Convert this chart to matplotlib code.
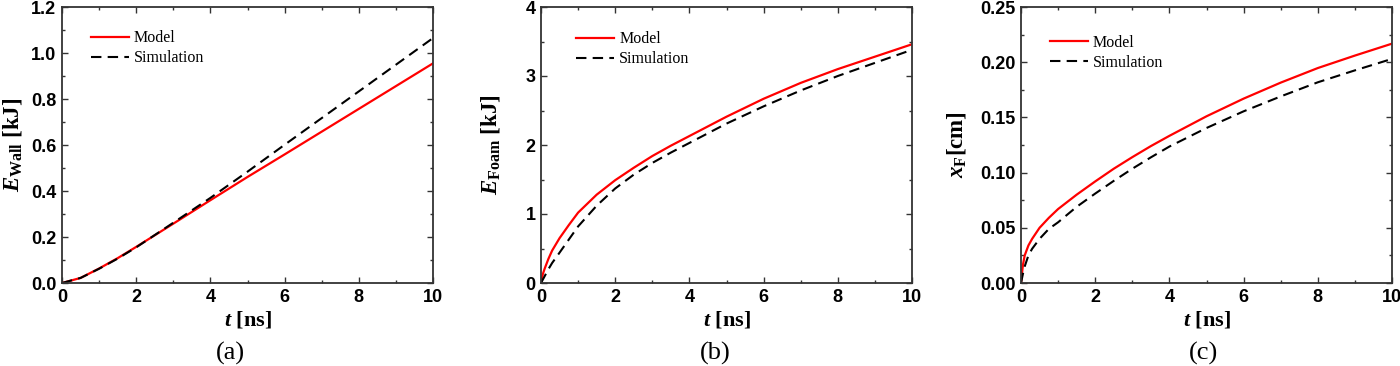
import matplotlib
matplotlib.use("Agg")
import matplotlib.pyplot as plt
from matplotlib.ticker import AutoMinorLocator

# panel (a): wall energy
t_a = [0, 0.5, 1, 1.5, 2, 3, 4, 5, 6, 7, 8, 9, 10]
wall_model = [0, 0.022, 0.063, 0.108, 0.157, 0.258, 0.36, 0.461, 0.559, 0.658, 0.757, 0.856, 0.955]
wall_sim = [0, 0.022, 0.062, 0.106, 0.155, 0.262, 0.37, 0.484, 0.601, 0.717, 0.833, 0.949, 1.065]

# panels (b), (c): foam energy and front position
t_bc = [0, 0.05, 0.1, 0.2, 0.3, 0.5, 0.75, 1, 1.5, 2, 2.5, 3, 3.5, 4, 5, 6, 7, 8, 9, 10]
foam_model = [0, 0.13, 0.21, 0.35, 0.47, 0.65, 0.84, 1.02, 1.28, 1.49, 1.67, 1.84, 1.99, 2.13, 2.41, 2.67, 2.90, 3.10, 3.28, 3.46]
foam_sim = [0, 0.05, 0.10, 0.20, 0.29, 0.44, 0.63, 0.82, 1.12, 1.37, 1.57, 1.74, 1.89, 2.03, 2.31, 2.56, 2.79, 3.00, 3.19, 3.38]
xf_model = [0, 0.016, 0.025, 0.034, 0.040, 0.050, 0.059, 0.067, 0.080, 0.092, 0.1035, 0.114, 0.124, 0.1333, 0.151, 0.167, 0.1815, 0.1947, 0.206, 0.2168]
xf_sim = [0, 0.008, 0.015, 0.025, 0.031, 0.040, 0.049, 0.055, 0.069, 0.081, 0.0925, 0.1035, 0.1138, 0.1236, 0.1404, 0.1555, 0.169, 0.1818, 0.1926, 0.203]

plt.rcParams["mathtext.fontset"] = "custom"
plt.rcParams["mathtext.rm"] = "Liberation Serif:bold"
plt.rcParams["mathtext.bf"] = "Liberation Serif:bold"
plt.rcParams["mathtext.it"] = "Liberation Serif:italic:bold"

SERIF = "Liberation Serif"
SANS = "Liberation Sans"
SPINE = "#333333"

panels = [
    dict(left=62, t=t_a, model=wall_model, sim=wall_sim, ylim=(0, 1.2), yticks=[0, 0.2, 0.4, 0.6, 0.8, 1.0, 1.2],
         fmt="{:.1f}", ylabel=r"$E_{\rm Wall}$ [kJ]", ylab_x=13, leg=(0.039, 0.967), tag="(a)", tag_x=230),
    dict(left=541, t=t_bc, model=foam_model, sim=foam_sim, ylim=(0, 4), yticks=[0, 1, 2, 3, 4],
         fmt="{:.0f}", ylabel=r"$E_{\rm Foam}$ [kJ]", ylab_x=490, leg=(0.056, 0.964), tag="(b)", tag_x=715),
    dict(left=1021, t=t_bc, model=xf_model, sim=xf_sim, ylim=(0, 0.25), yticks=[0, 0.05, 0.10, 0.15, 0.20, 0.25],
         fmt="{:.2f}", ylabel=r"$x_{\rm F}$[cm]", ylab_x=956, leg=(0.0385, 0.952), tag="(c)", tag_x=1203),
]

W, H = 1400, 366
fig = plt.figure(figsize=(14, 3.66), dpi=100)

for p in panels:
    ax = fig.add_axes([p["left"] / W, 1 - 283 / H, 371 / W, 276 / H])
    ax.plot(p["t"], p["model"], color="#ff0000", linewidth=1.6, label="Model")
    ax.plot(p["t"], p["sim"], color="black", linewidth=1.5, dashes=(5, 3), label="Simulation")
    ax.set_xlim(0, 10)
    ax.set_ylim(*p["ylim"])
    ax.set_xticks([0, 2, 4, 6, 8, 10])
    ax.set_yticks(p["yticks"])
    ax.set_xticklabels([str(v) for v in [0, 2, 4, 6, 8, 10]], fontfamily=SANS, fontweight="bold", fontsize=13)
    ax.set_yticklabels([p["fmt"].format(v) for v in p["yticks"]], fontfamily=SANS, fontweight="bold", fontsize=13)
    ax.xaxis.set_minor_locator(AutoMinorLocator(2))
    ax.yaxis.set_minor_locator(AutoMinorLocator(2))
    ax.tick_params(which="both", direction="in", top=True, right=True, color=SPINE, width=1.0)
    ax.tick_params(which="major", length=4.5, pad=4)
    ax.tick_params(which="minor", length=2.5)
    for s in ax.spines.values():
        s.set_color(SPINE)
        s.set_linewidth(1.3)

    ax.set_xlabel(r"$t$ [ns]", fontfamily=SERIF, fontweight="bold", fontsize=16, labelpad=3)
    ax.set_ylabel(p["ylabel"], fontfamily=SERIF, fontweight="bold", fontsize=16.5, va="center")
    ax.yaxis.set_label_coords((p["ylab_x"] - p["left"]) / 371, 0.5)

    ax.legend(loc="upper left", bbox_to_anchor=p["leg"], frameon=False, handlelength=2.4,
              handletextpad=0.3, labelspacing=0.25, prop={"family": SERIF, "size": 11.5})

    fig.text(p["tag_x"] / W, 1 - 353 / H, p["tag"], ha="center", va="center", fontfamily=SERIF, fontsize=19)

fig.savefig("out.png", dpi=100, facecolor="white")
